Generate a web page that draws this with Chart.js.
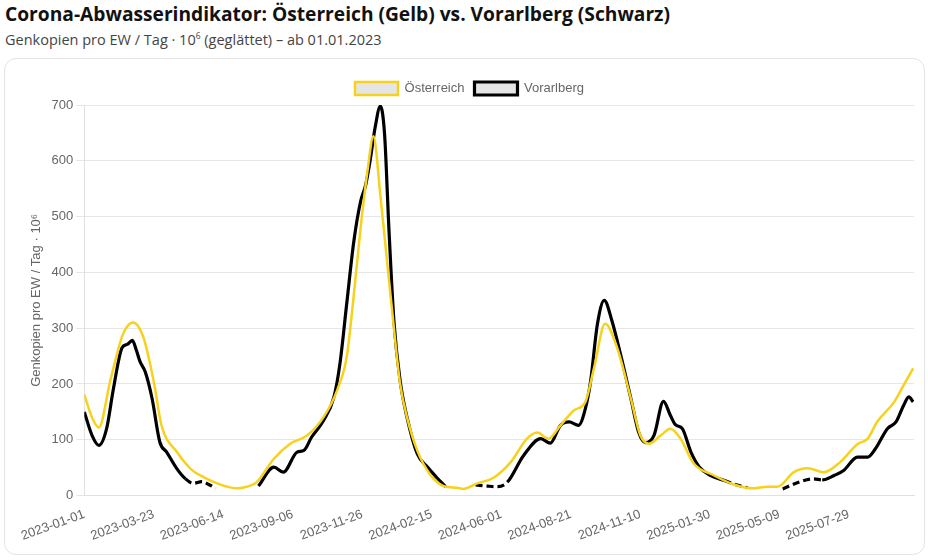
<!DOCTYPE html>
<html>
<head>
<meta charset="utf-8">
<script src="https://cdn.jsdelivr.net/npm/chart.js@4.4.1/dist/chart.umd.min.js"></script>
<style>
  html, body { margin: 0; padding: 0; background: #fff; }
  body { width: 928px; height: 560px; position: relative; overflow: hidden; font-family: "Open Sans", Roboto, "Liberation Sans", Arial, sans-serif; }
  #title { position: absolute; left: 5px; top: 0px; font-size: 19.2px; font-weight: 700; color: #111; white-space: nowrap; }
  #subtitle { position: absolute; left: 5px; top: 30px; font-size: 14.5px; color: #444; white-space: nowrap; }
  #subtitle sup { font-size: 8.5px; vertical-align: 6px; }
  #card { position: absolute; left: 4px; top: 58px; width: 919px; height: 495px; border: 1px solid #e4e4e4; border-radius: 12px; background: #fff; }
  #wrap { position: absolute; left: 0; top: 0; width: 919px; height: 495px; }
</style>
</head>
<body>
<div id="title">Corona-Abwasserindikator: Österreich (Gelb) vs. Vorarlberg (Schwarz)</div>
<div id="subtitle">Genkopien pro EW / Tag · 10<sup>6</sup> (geglättet) – ab 01.01.2023</div>
<div id="card"><div id="wrap"><canvas id="c"></canvas></div></div>
<script>
// X positions are category indices (one per available day, starting 2023-01-01)
const tickIndex = [0, 81, 162, 243, 324, 405, 486, 567, 648, 729, 810, 891];
const tickLabels = ['2023-01-01','2023-03-23','2023-06-14','2023-09-06','2023-11-26','2024-02-15','2024-06-01','2024-08-21','2024-11-10','2025-01-30','2025-05-09','2025-07-29'];
const lastIndex = 967;

// Österreich (yellow)
const oesIdx = [0, 9, 17, 30, 44, 50, 57, 69, 81, 90, 108, 124, 139, 158, 178, 197, 201, 221, 240, 260, 279, 295, 306, 314, 322, 330, 337, 345, 353, 361, 368, 376, 388, 403, 419, 434, 442, 458, 477, 497, 516, 528, 541, 555, 571, 584, 594, 607, 621, 637, 648, 658, 672, 683, 695, 710, 734, 757, 780, 796, 808, 827, 843, 862, 881, 901, 913, 924, 944, 955, 966];
const oesVal = [181, 140, 122, 204, 285, 303, 310, 283, 204, 126, 78, 48, 33, 20, 13, 20, 24, 66, 93, 108, 141, 190, 250, 358, 479, 581, 644, 539, 418, 298, 201, 141, 81, 38, 17, 14, 12, 22, 32, 60, 102, 113, 102, 126, 153, 168, 228, 308, 265, 174, 108, 93, 108, 120, 102, 58, 36, 20, 13, 16, 16, 42, 49, 42, 60, 92, 102, 132, 168, 198, 228];

// Vorarlberg (black); null = no data
const vbgIdx = [0, 9, 17, 26, 34, 44, 50, 56, 61, 65, 71, 79, 88, 96, 108, 118, 127, 137, 145, 153, 178, 203, 221, 232, 248, 256, 265, 279, 291, 298, 306, 314, 322, 328, 333, 339, 345, 350, 355, 361, 368, 376, 388, 400, 411, 421, 440, 456, 470, 481, 493, 512, 532, 543, 555, 565, 576, 584, 590, 598, 606, 615, 625, 637, 646, 654, 664, 675, 683, 689, 697, 707, 717, 730, 746, 761, 773, 795, 814, 831, 850, 860, 874, 885, 901, 913, 922, 936, 946, 955, 961, 966];
const vbgVal = [150, 108, 90, 120, 192, 265, 271, 278, 259, 240, 222, 174, 96, 78, 48, 30, 22, 25, 20, 13, null, 17, 51, 42, 78, 81, 105, 135, 177, 237, 346, 454, 527, 557, 599, 660, 698, 647, 479, 310, 207, 141, 75, 51, 32, 16, null, 19, 17, 16, 24, 72, 102, 94, 126, 132, 126, 156, 204, 307, 350, 313, 253, 174, 114, 95, 108, 169, 144, 127, 120, 78, 51, 36, 27, 19, 14, null, 12, 23, 30, 28, 36, 45, 69, 69, 84, 120, 132, 162, 177, 168];
// index ranges where Vorarlberg data is sparse
const vbgSparse = [[118, 153], [456, 493], [746, 773], [814, 860]];

const toPts = (xs, ys) => xs.map((x, i) => ({ x: x, y: ys[i] }));
const inSparse = (a, b) => vbgSparse.some(r => a >= r[0] && b <= r[1]);

Chart.defaults.font.family = "'Liberation Sans', Arial, sans-serif";
Chart.defaults.font.size = 13;
Chart.defaults.color = '#666';

new Chart(document.getElementById('c'), {
  type: 'line',
  data: {
    datasets: [
      {
        label: 'Österreich',
        data: toPts(oesIdx, oesVal),
        borderColor: '#f7d21c',
        backgroundColor: 'rgba(0,0,0,0.1)',
        borderWidth: 2.5,
        pointRadius: 0,
        cubicInterpolationMode: 'monotone',
        fill: false
      },
      {
        label: 'Vorarlberg',
        data: toPts(vbgIdx, vbgVal),
        borderColor: '#000',
        backgroundColor: 'rgba(0,0,0,0.1)',
        borderWidth: 3.2,
        pointRadius: 0,
        cubicInterpolationMode: 'monotone',
        spanGaps: false,
        fill: false,
        segment: {
          borderDash: ctx => inSparse(ctx.p0.parsed.x, ctx.p1.parsed.x) ? [7, 4] : undefined
        }
      }
    ]
  },
  options: {
    responsive: true,
    maintainAspectRatio: false,
    animation: false,
    layout: { padding: { top: 13, right: 10, left: 20, bottom: 7 } },
    plugins: {
      legend: { labels: { boxWidth: 43, boxHeight: 13, color: '#666', padding: 10 } },
      tooltip: { enabled: false }
    },
    scales: {
      x: {
        type: 'linear',
        min: 0,
        max: lastIndex,
        grid: { display: false },
        border: { color: '#e0e0e0' },
        afterBuildTicks: axis => { axis.ticks = tickIndex.map(v => ({ value: v })); },
        ticks: {
          autoSkip: false,
          minRotation: 20,
          maxRotation: 20,
          callback: v => tickLabels[tickIndex.indexOf(v)] || ''
        }
      },
      y: {
        min: 0,
        max: 700,
        ticks: { stepSize: 100 },
        grid: { color: '#e6e6e6' },
        border: { color: '#e0e0e0' },
        title: { display: true, text: 'Genkopien pro EW / Tag · 10⁶', color: '#666' }
      }
    }
  }
});
</script>
</body>
</html>
